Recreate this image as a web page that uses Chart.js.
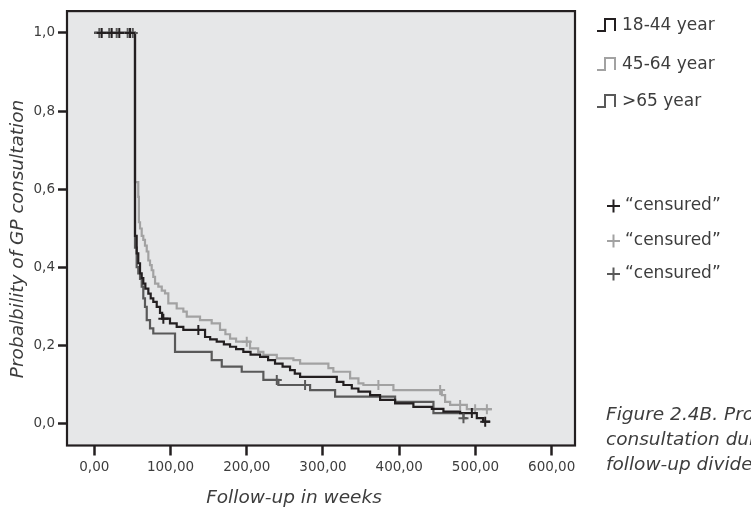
<!DOCTYPE html>
<html>
<head>
<meta charset="utf-8">
<script src="https://cdn.jsdelivr.net/npm/chart.js@4"></script>
<style>
  html, body { margin: 0; padding: 0; background: #fff; }
</style>
</head>
<body>
<canvas id="km" width="751" height="510"></canvas>
<script>
// Kaplan-Meier steps (weeks, probability after the event)
const weeks_1844 = [0, 53.4, 55.6, 57.7, 60, 62.2, 64.3, 67, 70.9, 74, 77.4, 81.9, 86.2, 89, 99.3, 108.1, 116.8, 145.3, 152, 160.6, 170, 178.1, 186, 195.5, 205, 217.5, 228, 237.1, 247, 256.8, 263, 270, 318.1, 326.8, 337.8, 346.5, 361.8, 374.9, 394.6, 418.6, 442.8, 458, 479.9, 501.8, 510, 519.3];
const prob_1844  = [1, 0.48, 0.435, 0.41, 0.384, 0.372, 0.358, 0.345, 0.332, 0.32, 0.311, 0.298, 0.283, 0.268, 0.256, 0.247, 0.239, 0.221, 0.215, 0.209, 0.202, 0.196, 0.19, 0.183, 0.176, 0.17, 0.162, 0.153, 0.145, 0.136, 0.127, 0.119, 0.106, 0.098, 0.089, 0.081, 0.072, 0.06, 0.051, 0.042, 0.037, 0.03, 0.026, 0.013, 0.004, 0.004];

const weeks_4564 = [0, 53.4, 57.7, 58.5, 60, 62.2, 64.3, 66.5, 68.8, 70.9, 73.1, 75.3, 77.4, 79.7, 84, 88.5, 92.8, 97.1, 108.1, 116.8, 121.3, 138.7, 154, 164.9, 172, 178.1, 186, 204.3, 215, 221.8, 239.4, 261.2, 270, 307.1, 313.6, 335.6, 346.5, 353, 392.4, 455.9, 460.2, 466.8, 488.7, 521.5];
const prob_4564  = [1, 0.618, 0.58, 0.515, 0.499, 0.48, 0.47, 0.455, 0.44, 0.417, 0.405, 0.392, 0.375, 0.358, 0.35, 0.34, 0.333, 0.307, 0.294, 0.286, 0.273, 0.264, 0.256, 0.239, 0.228, 0.217, 0.209, 0.192, 0.183, 0.175, 0.166, 0.162, 0.153, 0.141, 0.132, 0.115, 0.102, 0.098, 0.085, 0.072, 0.055, 0.047, 0.036, 0.036];

const weeks_65 = [0, 53.4, 55.6, 57.7, 60, 62.2, 64.3, 66.5, 68.8, 73.1, 77.4, 105.9, 154, 167.2, 193.4, 221.8, 241.5, 283.1, 315.9, 394.6, 444.9, 484.3, 488.7];
const prob_65  = [1, 0.45, 0.4, 0.384, 0.37, 0.35, 0.32, 0.298, 0.264, 0.243, 0.23, 0.183, 0.162, 0.145, 0.132, 0.111, 0.098, 0.085, 0.068, 0.055, 0.026, 0.013, 0.013];

// censored cases
const cens_weeks_1844 = [9.7, 22.8, 32.8, 46.9, 90.6, 136.5, 495.3, 512.8];
const cens_prob_1844  = [1, 1, 1, 1, 0.268, 0.239, 0.026, 0.004];
const cens_weeks_4564 = [200, 372.7, 453.7, 479.9, 499.6, 515];
const cens_prob_4564  = [0.209, 0.098, 0.085, 0.047, 0.036, 0.036];
const cens_weeks_65 = [6.6, 19.6, 29.4, 43.8, 50.5, 239.4, 276.5, 484.3];
const cens_prob_65  = [1, 1, 1, 1, 1, 0.111, 0.098, 0.013];

const groups = ['18-44 year', '45-64 year', '>65 year'];
const xTicks = [0, 100, 200, 300, 400, 500, 600];
const yTicks = [0, 0.2, 0.4, 0.6, 0.8, 1.0];

const colBlack = '#231f20';
const colLight = '#a2a2a2';
const colDark  = '#595959';
const FONT = '"DejaVu Sans"';
const textCol = '#3d3d3d';

function pts(xs, ys) {
  return xs.map((x, i) => ({x: x, y: ys[i]}));
}

function stepLine(label, xs, ys, color, order) {
  return {
    label: label,
    data: pts(xs, ys),
    stepped: 'before',   // hold the old level, then drop at the event time
    borderColor: color,
    borderWidth: 2.2,
    pointRadius: 0,
    fill: false,
    order: order
  };
}

function censorSet(xs, ys, color, order) {
  return {
    label: 'censured',
    data: pts(xs, ys),
    showLine: false,
    pointStyle: 'cross',
    pointRadius: 5,
    borderColor: color,
    borderWidth: 2,
    order: order
  };
}

function stepIcon(ctx, x, y, color) {
  ctx.strokeStyle = color;
  ctx.lineWidth = 2;
  ctx.beginPath();
  ctx.moveTo(x, y + 6);
  ctx.lineTo(x + 8, y + 6);
  ctx.lineTo(x + 8, y - 6);
  ctx.lineTo(x + 18, y - 6);
  ctx.lineTo(x + 18, y + 6);
  ctx.stroke();
}

function plusIcon(ctx, x, y, color) {
  ctx.strokeStyle = color;
  ctx.lineWidth = 2;
  ctx.beginPath();
  ctx.moveTo(x - 6.5, y); ctx.lineTo(x + 6.5, y);
  ctx.moveTo(x, y - 6.5); ctx.lineTo(x, y + 6.5);
  ctx.stroke();
}

const frame = {
  id: 'frame',
  beforeDraw(chart) {
    const ctx = chart.ctx, a = chart.chartArea;
    ctx.save();
    ctx.fillStyle = '#fff';
    ctx.fillRect(0, 0, chart.width, chart.height);
    ctx.fillStyle = '#e6e7e8';
    ctx.fillRect(a.left, a.top, a.right - a.left, a.bottom - a.top);
    ctx.restore();
  },
  afterDraw(chart) {
    const ctx = chart.ctx, a = chart.chartArea;
    ctx.save();
    ctx.strokeStyle = colBlack;
    ctx.lineWidth = 2.2;
    ctx.strokeRect(a.left, a.top, a.right - a.left, a.bottom - a.top);

    // axis titles
    ctx.fillStyle = textCol;
    ctx.font = 'oblique 18.5px ' + FONT;
    ctx.textAlign = 'center';
    ctx.textBaseline = 'alphabetic';
    ctx.fillText('Follow-up in weeks', 294, 503);
    ctx.save();
    ctx.translate(23, 239);
    ctx.rotate(-Math.PI / 2);
    ctx.fillText('Probalbility of GP consultation', 0, 0);
    ctx.restore();

    // legend
    const legendCols = [colBlack, colLight, colDark];
    const rowY = [25, 64, 101];
    const censY = [206, 241, 274];
    ctx.font = '17px ' + FONT;
    ctx.textAlign = 'left';
    ctx.textBaseline = 'middle';
    groups.forEach((g, i) => {
      stepIcon(ctx, 597, rowY[i], legendCols[i]);
      ctx.fillStyle = textCol;
      ctx.fillText(g, 622, rowY[i] + 1);
    });
    legendCols.forEach((c, i) => {
      plusIcon(ctx, 613.5, censY[i], c);
      ctx.fillStyle = textCol;
      ctx.fillText('\u201Ccensured\u201D', 625, censY[i]);
    });

    // caption (runs off the right edge in the original)
    ctx.font = 'oblique 18.5px ' + FONT;
    ctx.textBaseline = 'alphabetic';
    ctx.fillStyle = textCol;
    ctx.fillText('Figure 2.4B. Probability of GP', 606, 420);
    ctx.fillText('consultation during', 606, 445);
    ctx.fillText('follow-up divided by age', 606, 470);
    ctx.restore();
  }
};

const ctx = document.getElementById('km');

const kmChart = new Chart(ctx, {
  type: 'line',
  data: {
    datasets: [
      censorSet(cens_weeks_1844, cens_prob_1844, colBlack, 0),
      censorSet(cens_weeks_65, cens_prob_65, colDark, 1),
      censorSet(cens_weeks_4564, cens_prob_4564, colLight, 2),
      stepLine(groups[0], weeks_1844, prob_1844, colBlack, 3),
      stepLine(groups[2], weeks_65, prob_65, colDark, 4),
      stepLine(groups[1], weeks_4564, prob_4564, colLight, 5)
    ]
  },
  options: {
    responsive: false,
    animation: false,
    layout: { padding: { left: 0, top: 10.5, right: 176, bottom: 0 } },
    plugins: {
      legend: { display: false },
      tooltip: { enabled: false }
    },
    scales: {
      x: {
        type: 'linear',
        min: -35.8,
        max: 630.6,
        afterBuildTicks: s => { s.ticks = xTicks.map(v => ({value: v})); },
        afterFit: s => { s.height = 64.5; },
        grid: { drawOnChartArea: false, drawTicks: true, tickLength: 10, tickWidth: 2.5, tickColor: colBlack },
        border: { display: false },
        ticks: {
          padding: 4,
          color: textCol,
          font: { family: 'DejaVu Sans', size: 13.5 },
          callback: v => v.toFixed(2).replace('.', ',')
        }
      },
      y: {
        min: -0.057,
        max: 1.056,
        afterBuildTicks: s => { s.ticks = yTicks.map(v => ({value: v})); },
        afterFit: s => { s.width = 67; },
        grid: { drawOnChartArea: false, drawTicks: true, tickLength: 9, tickWidth: 2.5, tickColor: colBlack },
        border: { display: false },
        ticks: {
          padding: 3,
          color: textCol,
          font: { family: 'DejaVu Sans', size: 13.5 },
          callback: v => v.toFixed(1).replace('.', ',')
        }
      }
    }
  },
  plugins: [frame]
});
</script>
</body>
</html>
